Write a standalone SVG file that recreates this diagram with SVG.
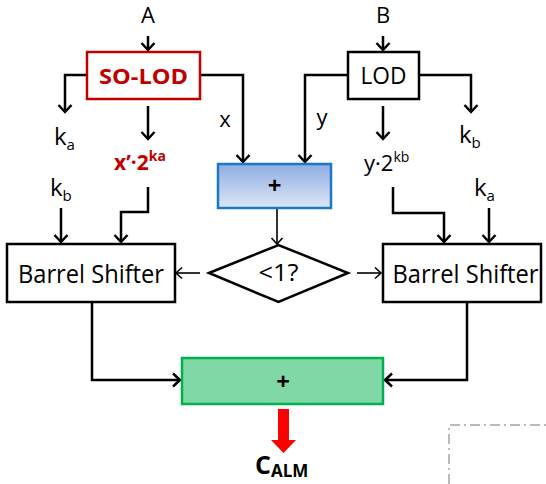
<svg xmlns="http://www.w3.org/2000/svg" width="546" height="484" viewBox="0 0 546 484">
<style>
text{font-family:"Open Sans","Liberation Sans",sans-serif;fill:#000}
.lbl{font-size:22px}
.k{font-size:24px}
.box{fill:#fff;stroke:#000;stroke-width:2.5}
.c{fill:none;stroke:#000;stroke-width:2.5}
.ct{fill:none;stroke:#000;stroke-width:1.6}
.bold{font-weight:bold}
</style>
<defs>
<marker id="ah" markerUnits="userSpaceOnUse" markerWidth="20" markerHeight="20" refX="0" refY="0" viewBox="-10 -10 20 20" orient="auto" overflow="visible">
<path d="M-7,-6.5 L0,0 L-7,6.5" fill="none" stroke="#000" stroke-width="2.5"/>
</marker>
<marker id="aht" markerUnits="userSpaceOnUse" markerWidth="20" markerHeight="20" refX="0" refY="0" viewBox="-10 -10 20 20" orient="auto" overflow="visible">
<path d="M-6,-5.5 L0,0 L-6,5.5" fill="none" stroke="#000" stroke-width="1.6"/>
</marker>
<linearGradient id="blue" x1="0" y1="0" x2="0" y2="1">
<stop offset="0" stop-color="#8fade2"/>
<stop offset="1" stop-color="#dde6f6"/>
</linearGradient>
</defs>

<g id="connectors">
<path class="c" d="M148,36 V50" marker-end="url(#ah)"/>
<path class="c" d="M87,75 H65 V112" marker-end="url(#ah)"/>
<path class="c" d="M148,106 V139" marker-end="url(#ah)"/>
<path class="c" d="M200,75 H243 V162" marker-end="url(#ah)"/>
<path class="c" d="M61,208 V242" marker-end="url(#ah)"/>
<path class="c" d="M148,187 V212 H121 V242" marker-end="url(#ah)"/>
<path class="c" d="M383,36 V50" marker-end="url(#ah)"/>
<path class="c" d="M348,75 H305 V162" marker-end="url(#ah)"/>
<path class="c" d="M383,106 V139" marker-end="url(#ah)"/>
<path class="c" d="M419,75 H471 V112" marker-end="url(#ah)"/>
<path class="c" d="M393,187 V213 H444 V242" marker-end="url(#ah)"/>
<path class="c" d="M489,208 V242" marker-end="url(#ah)"/>
<path class="ct" d="M277,209 V244" marker-end="url(#aht)"/>
<path class="ct" d="M200,273 H176" marker-end="url(#aht)"/>
<path class="ct" d="M357,273 H381" marker-end="url(#aht)"/>
<path class="c" d="M92,303 V380 H180" marker-end="url(#ah)"/>
<path class="c" d="M467,303 V380 H385" marker-end="url(#ah)"/>
<path d="M278,409 H289 V440 H296 L283.5,453 L271,440 H278 Z" fill="#ff0000"/>
</g>

<g id="inputs">
<text class="lbl" x="148" y="23" text-anchor="middle">A</text>
<text class="lbl" x="383" y="23" text-anchor="middle">B</text>
</g>

<g id="so-lod">
<rect x="87" y="52" width="113" height="47" fill="#fff" stroke="#c00000" stroke-width="2.5"/>
<text x="143.5" y="83.5" text-anchor="middle" class="bold" font-size="21" textLength="89" lengthAdjust="spacingAndGlyphs" style="fill:#c00000">SO-LOD</text>
</g>

<g id="lod">
<rect class="box" x="348" y="52" width="71" height="47"/>
<text x="383.5" y="84" text-anchor="middle" font-size="23" textLength="46" lengthAdjust="spacingAndGlyphs">LOD</text>
</g>

<g id="labels">
<text class="k" x="54" y="145">k<tspan font-size="15" dy="5">a</tspan></text>
<text class="k" x="50" y="196">k<tspan font-size="15" dy="5">b</tspan></text>
<text x="114" y="170" class="bold" font-size="21" style="fill:#c00000">x’·2<tspan font-size="14" dy="-9">ka</tspan></text>
<text class="lbl" x="225" y="127" text-anchor="middle">x</text>
<text class="lbl" x="322" y="125" text-anchor="middle">y</text>
<text x="364" y="171" font-size="22">y·2<tspan font-size="14" dy="-9">kb</tspan></text>
<text class="k" x="459" y="143">k<tspan font-size="15" dy="5">b</tspan></text>
<text class="k" x="474" y="196">k<tspan font-size="15" dy="5">a</tspan></text>
</g>

<g id="adder1">
<rect x="218" y="164" width="113" height="44" fill="url(#blue)" stroke="#1a78c8" stroke-width="2.5"/>
<text x="274.5" y="194" text-anchor="middle" class="bold" font-size="24">+</text>
</g>

<g id="compare">
<polygon points="209,273 278.5,245 348,273 278.5,302" fill="#fff" stroke="#000" stroke-width="2.5"/>
<text x="278.5" y="281" text-anchor="middle" font-size="24" textLength="40" lengthAdjust="spacingAndGlyphs">&lt;1?</text>
</g>

<g id="shifter-left">
<rect class="box" x="7" y="244" width="168" height="58"/>
<text x="91" y="283" text-anchor="middle" font-size="25" textLength="146" lengthAdjust="spacingAndGlyphs">Barrel Shifter</text>
</g>

<g id="shifter-right">
<rect class="box" x="383" y="244" width="158" height="58"/>
<text x="465.5" y="283" text-anchor="middle" font-size="25" textLength="146" lengthAdjust="spacingAndGlyphs">Barrel Shifter</text>
</g>

<g id="adder2">
<rect x="182" y="358" width="201" height="46" fill="#80d8a6" stroke="#00b050" stroke-width="2.5"/>
<text x="283" y="390" text-anchor="middle" class="bold" font-size="24">+</text>
</g>

<g id="output">
<text x="255" y="474" class="bold" font-size="25">C<tspan font-size="17" dy="3">ALM</tspan></text>
</g>

<g id="frame">
<path d="M449,484 V425 H546" fill="none" stroke="#bbbbbb" stroke-width="2" stroke-dasharray="10,4,2,4"/>
</g>
</svg>
